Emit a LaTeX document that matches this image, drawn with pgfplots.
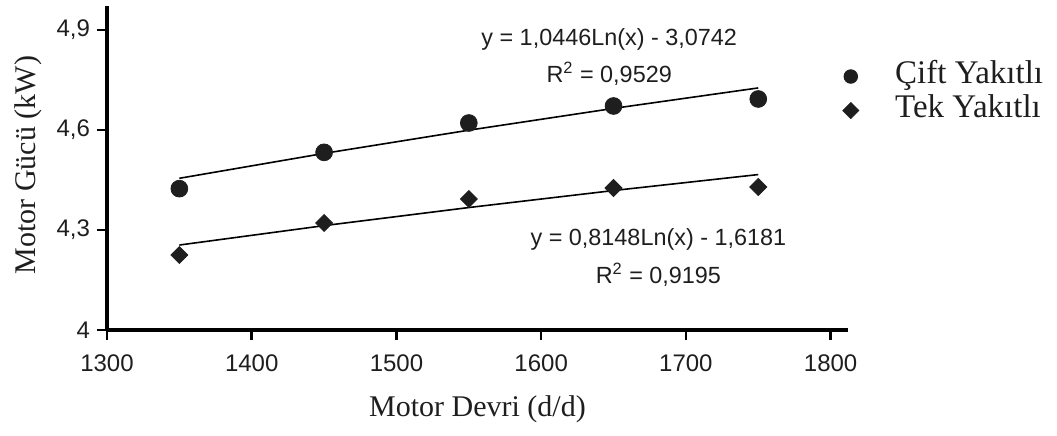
\documentclass[border=0pt]{standalone}
\usepackage{pgfplots}
\pgfplotsset{compat=1.18}
\usepackage{fontspec}
\setmainfont{Liberation Serif}
\newfontfamily\arialf{Liberation Sans}
\definecolor{ink}{HTML}{1E1E1E}
\begin{document}
\begin{tikzpicture}
\begin{axis}[
  at={(0,0)}, anchor=south west,
  scale only axis, width=370.5pt, height=162pt,
  xmin=1300, xmax=1812, ymin=4, ymax=4.972,
  axis lines=left,
  axis line style={-, line width=2.4pt, black},
  xtick={1300,1400,1500,1600,1700,1800},
  xticklabels={1300,1400,1500,1600,1700,1800},
  ytick={4,4.3,4.6,4.9},
  yticklabels={4,{4,3},{4,6},{4,9}},
  tick align=outside, major tick length=5pt,
  tick style={line width=1.3pt, black},
  ticklabel style={font=\arialf\fontsize{12}{14}\selectfont, text=ink},
  xticklabel style={yshift=-4pt},
  xlabel={Motor Devri (d/d)},
  ylabel={Motor Gücü (kW)},
  label style={font=\fontsize{15}{18}\selectfont, text=ink},
  x label style={at={(axis description cs:0.5,-0.245)}, anchor=center},
  y label style={at={(axis description cs:-0.1066,0.509)}, anchor=center},
  clip=false,
  legend style={draw=none, fill=none, inner sep=0pt,
    at={(axis description cs:0.9865,0.836)}, anchor=north west,
    font=\fontsize{16.5}{19}\selectfont, text=ink,
    nodes={inner sep=2pt, text height=10pt, text depth=3pt}},
  legend cell align=left,
]
% trend lines (from the fitted equations)
\addplot[forget plot, black, line width=0.8pt] coordinates {
  (1350,4.4551) (1450,4.5298) (1550,4.5994) (1650,4.6648) (1750,4.7262)};
\addplot[forget plot, black, line width=0.8pt] coordinates {
  (1350,4.2549) (1450,4.3131) (1550,4.3674) (1650,4.4184) (1750,4.4663)};
% data
\addplot[only marks, mark=*, mark size=4.2pt, mark options={fill=ink, draw=ink},
  legend image code/.code={\path (0pt,-1pt) (26pt,1pt); \fill[ink] (6pt,0pt) circle (3.4pt);}] coordinates {
  (1350,4.424) (1450,4.533) (1550,4.621) (1650,4.672) (1750,4.693)};
\addlegendentry{Çift Yakıtlı}
\addplot[only marks, mark=square*, mark size=3pt, mark options={rotate=45, fill=ink, draw=ink},
  legend image code/.code={\path (0pt,-1pt) (26pt,1pt); \fill[ink] (6pt,4pt) -- (10pt,0pt) -- (6pt,-4pt) -- (2pt,0pt) -- cycle;}] coordinates {
  (1350,4.225) (1450,4.321) (1550,4.393) (1650,4.426) (1750,4.429)};
\addlegendentry{Tek Yakıtlı}
% equations
\node[font=\arialf\fontsize{11.7}{14}\selectfont, text=ink] at (axis cs:1647,4.873) {y = 1,0446Ln(x) - 3,0742};
\node[font=\arialf\fontsize{11.7}{14}\selectfont, text=ink] at (axis cs:1647,4.768) {R\textsuperscript{2} = 0,9529};
\node[font=\arialf\fontsize{11.7}{14}\selectfont, text=ink] at (axis cs:1681,4.273) {y = 0,8148Ln(x) - 1,6181};
\node[font=\arialf\fontsize{11.7}{14}\selectfont, text=ink] at (axis cs:1681,4.165) {R\textsuperscript{2} = 0,9195};
\end{axis}
\pgfresetboundingbox
\path[use as bounding box] (-53.5pt,-52.5pt) rectangle (475pt,165pt);
\end{tikzpicture}
\end{document}
